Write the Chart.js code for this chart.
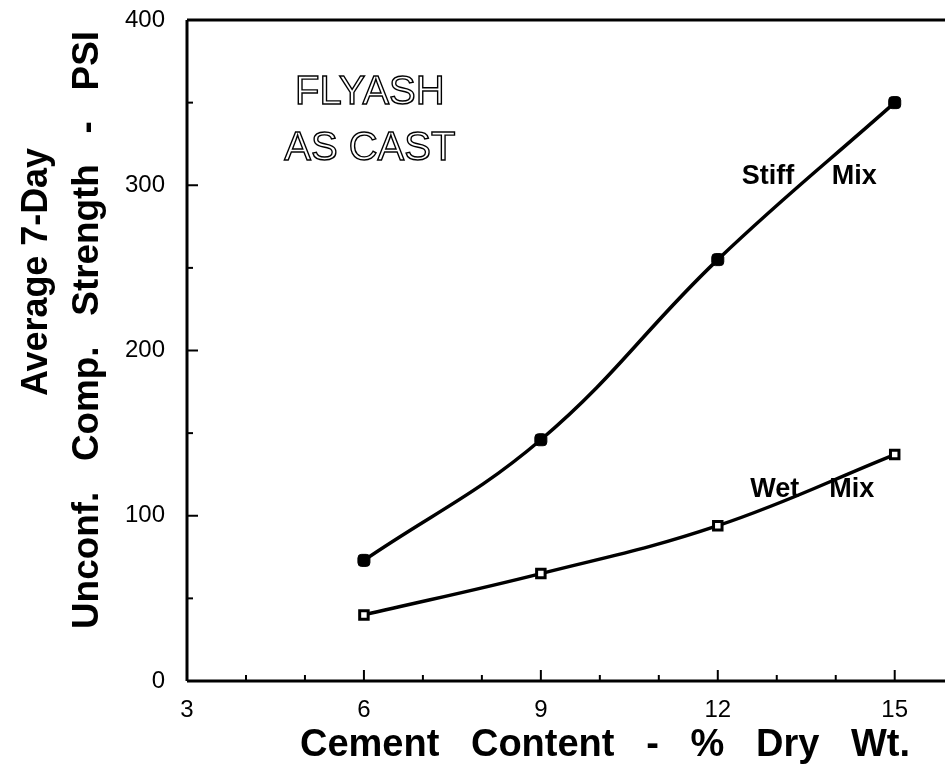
<!DOCTYPE html>
<html>
<head>
<meta charset="utf-8">
<script src="https://cdn.jsdelivr.net/npm/chart.js@4/dist/chart.umd.min.js"></script>
<style>
  html, body { margin: 0; padding: 0; background: #fff; }
  #wrap { width: 945px; height: 770px; }
</style>
</head>
<body>
<div id="wrap"><canvas id="grafico" width="945" height="770"></canvas></div>
<script>
// Datos
const cemento = [6, 9, 12, 15];
const mezclaSeca = [73, 146, 255, 350];   // Stiff Mix
const mezclaHumeda = [40, 65, 94, 137];   // Wet Mix
const etiquetasX = [3, 6, 9, 12, 15];
const etiquetasY = [0, 100, 200, 300, 400];

const fuente = '"Liberation Sans", Arial, Helvetica, sans-serif';

function puntos(xs, ys) {
  return xs.map((x, i) => ({ x: x, y: ys[i] }));
}

// Ejes, marcas y textos dibujados a mano
const decoracion = {
  id: 'decoracion',
  afterDraw(chart) {
    const ctx = chart.ctx;
    const a = chart.chartArea;
    const sx = chart.scales.x;
    const sy = chart.scales.y;
    ctx.save();
    ctx.strokeStyle = '#000';
    ctx.lineWidth = 3;
    ctx.beginPath();
    ctx.moveTo(a.left, a.top); ctx.lineTo(chart.width, a.top);
    ctx.moveTo(a.left, a.top); ctx.lineTo(a.left, a.bottom);
    ctx.moveTo(a.left, a.bottom); ctx.lineTo(chart.width, a.bottom);
    ctx.stroke();

    // marcas del eje x (hacia dentro)
    ctx.lineWidth = 2;
    for (let v = 4; v <= 15; v++) {
      const px = sx.getPixelForValue(v);
      const largo = v % 3 === 0 ? 11 : 6;
      ctx.beginPath();
      ctx.moveTo(px, a.bottom); ctx.lineTo(px, a.bottom - largo);
      ctx.stroke();
    }
    // marcas del eje y
    for (let v = 50; v < 400; v += 50) {
      const py = sy.getPixelForValue(v);
      const largo = v % 100 === 0 ? 11 : 6;
      ctx.beginPath();
      ctx.moveTo(a.left, py); ctx.lineTo(a.left + largo, py);
      ctx.stroke();
    }

    ctx.fillStyle = '#000';
    ctx.textAlign = 'center';
    ctx.textBaseline = 'middle';

    // título eje x
    ctx.font = 'bold 38px ' + fuente;
    ctx.fillText('Cement   Content   -   %   Dry   Wt.', 605, 746, 624);

    // título eje y (dos líneas)
    ctx.font = 'bold 37px ' + fuente;
    ctx.save();
    ctx.translate(37, 272);
    ctx.rotate(-Math.PI / 2);
    ctx.fillText('Average 7-Day', 0, 0, 248);
    ctx.restore();
    ctx.save();
    ctx.translate(88, 330);
    ctx.rotate(-Math.PI / 2);
    ctx.fillText('Unconf.   Comp.   Strength   -   PSI', 0, 0, 598);
    ctx.restore();

    // texto hueco
    ctx.font = '40px ' + fuente;
    ctx.lineWidth = 1.4;
    ctx.strokeText('FLYASH', sx.getPixelForValue(6.1), sy.getPixelForValue(356));
    ctx.strokeText('AS CAST', sx.getPixelForValue(6.1), sy.getPixelForValue(322));

    // etiquetas de series
    ctx.font = 'bold 27px ' + fuente;
    ctx.fillText('Stiff     Mix', sx.getPixelForValue(13.55), sy.getPixelForValue(305));
    ctx.fillText('Wet    Mix', sx.getPixelForValue(13.6), sy.getPixelForValue(116));
    ctx.restore();
  }
};

new Chart(document.getElementById('grafico'), {
  type: 'line',
  data: {
    datasets: [
      {
        label: 'Stiff Mix',
        data: puntos(cemento, mezclaSeca),
        borderColor: '#000',
        borderWidth: 3.5,
        tension: 0.4,
        pointStyle: 'rectRounded',
        pointRadius: 7,
        pointBackgroundColor: '#000',
        pointBorderColor: '#000',
        pointBorderWidth: 1
      },
      {
        label: 'Wet Mix',
        data: puntos(cemento, mezclaHumeda),
        borderColor: '#000',
        borderWidth: 3.5,
        tension: 0.4,
        pointStyle: 'rect',
        pointRadius: 6,
        pointBackgroundColor: '#fff',
        pointBorderColor: '#000',
        pointBorderWidth: 3
      }
    ]
  },
  options: {
    responsive: false,
    animation: false,
    layout: { padding: { top: 20, right: 0, left: 0, bottom: 0 } },
    plugins: {
      legend: { display: false },
      tooltip: { enabled: false }
    },
    scales: {
      x: {
        type: 'linear',
        min: 3,
        max: 15.7,
        afterBuildTicks: s => { s.ticks = etiquetasX.map(v => ({ value: v })); },
        afterFit: s => { s.height = 89; },
        grid: { display: false },
        border: { display: false },
        ticks: {
          color: '#000',
          padding: 7,
          maxRotation: 0,
          font: { family: fuente, size: 24 }
        }
      },
      y: {
        type: 'linear',
        min: 0,
        max: 400,
        afterBuildTicks: s => { s.ticks = etiquetasY.map(v => ({ value: v })); },
        afterFit: s => { s.width = 187; s.paddingTop = 0; s.paddingBottom = 0; },
        grid: { display: false },
        border: { display: false },
        ticks: {
          color: '#000',
          padding: 14,
          font: { family: fuente, size: 24 }
        }
      }
    }
  },
  plugins: [decoracion]
});
</script>
</body>
</html>
